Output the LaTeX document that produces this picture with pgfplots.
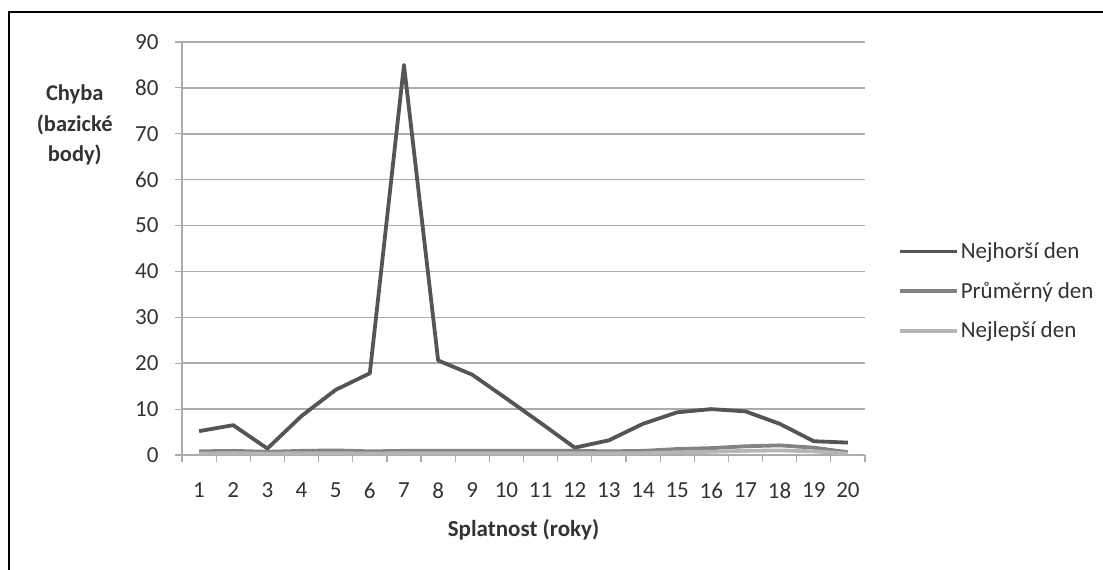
\documentclass[border=0pt]{standalone}
\usepackage{pgfplots}
\pgfplotsset{compat=1.18}
\usepackage{fontspec}
\setmainfont{Carlito}
\definecolor{worst}{HTML}{555555}
\definecolor{avg}{HTML}{838383}
\definecolor{best}{HTML}{B5B5B5}
\definecolor{gridc}{HTML}{ABABAB}
\definecolor{txt}{HTML}{333333}
\begin{document}
\begin{tikzpicture}[x=1pt,y=1pt]
\path[use as bounding box] (0,0) rectangle (1103,570);
\draw[line width=2pt, black] (9,-5) -- (9,558) -- (1110,558);
\begin{axis}[
  at={(182pt,115pt)}, anchor=south west,
  scale only axis, width=683pt, height=413pt,
  xmin=0.5, xmax=20.5, ymin=0, ymax=90,
  xtick={1,...,20}, minor xtick={0.5,1.5,...,20.5},
  ytick={0,10,...,90},
  major x tick style={draw=none},
  tick align=outside,
  minor tick length=7pt, major tick length=7pt,
  every tick/.style={gridc, line width=1.2pt},
  axis x line*=bottom, axis y line*=left,
  axis line style={gridc, line width=1.5pt, -},
  ymajorgrids, grid style={gridc, line width=1.5pt},
  font=\fontsize{23}{27}\selectfont\color{txt},
  /pgf/number format/assume math mode=true,
  ticklabel style={font=\fontsize{23}{27}\selectfont\color{txt}},
  xticklabel style={yshift=-17pt},
  yticklabel style={xshift=-13pt},
  xlabel={\bfseries Splatnost (roky)},
  xlabel style={at={(axis description cs:0.5,-0.182)}, anchor=center, font=\fontsize{23}{27}\selectfont\bfseries\color{txt}},
  ylabel={Chyba\\(bazické\\body)},
  ylabel style={at={(axis description cs:-0.157,0.799)}, rotate=-90, anchor=center, align=center, font=\fontsize{22.5}{30.5}\selectfont\bfseries\color{txt}},
  legend style={at={(axis description cs:1.048,0.397)}, anchor=west, draw=none, fill=none,
    font=\fontsize{23}{27}\selectfont\color{txt}, row sep=18pt, inner sep=0pt},
  legend cell align=left,
  legend image code/.code={\draw[#1] (0pt,0pt) -- (57pt,0pt);},
  clip=false,
]
\addplot[worst, line width=3.8pt, line join=round] coordinates {
(1,5.2) (2,6.5) (3,1.4) (4,8.5) (5,14.2) (6,17.8) (7,85) (8,20.6) (9,17.5) (10,12.3)
(11,7) (12,1.6) (13,3.2) (14,6.8) (15,9.3) (16,10.0) (17,9.5) (18,6.8) (19,3.0) (20,2.7)};
\addlegendentry{Nejhorší den}
\addplot[avg, line width=3.8pt, line join=round] coordinates {
(1,0.8) (2,0.9) (3,0.7) (4,0.9) (5,1.0) (6,0.8) (7,0.9) (8,0.9) (9,0.9) (10,0.9)
(11,0.9) (12,0.9) (13,0.8) (14,0.9) (15,1.3) (16,1.5) (17,1.9) (18,2.1) (19,1.6) (20,0.6)};
\addlegendentry{Průměrný den}
\addplot[best, line width=3.8pt, line join=round] coordinates {
(1,0.3) (2,0.4) (3,0.3) (4,0.4) (5,0.4) (6,0.3) (7,0.4) (8,0.4) (9,0.4) (10,0.4)
(11,0.4) (12,0.4) (13,0.4) (14,0.4) (15,0.6) (16,0.7) (17,0.9) (18,1.0) (19,0.8) (20,0.3)};
\addlegendentry{Nejlepší den}
\end{axis}
\end{tikzpicture}
\end{document}
